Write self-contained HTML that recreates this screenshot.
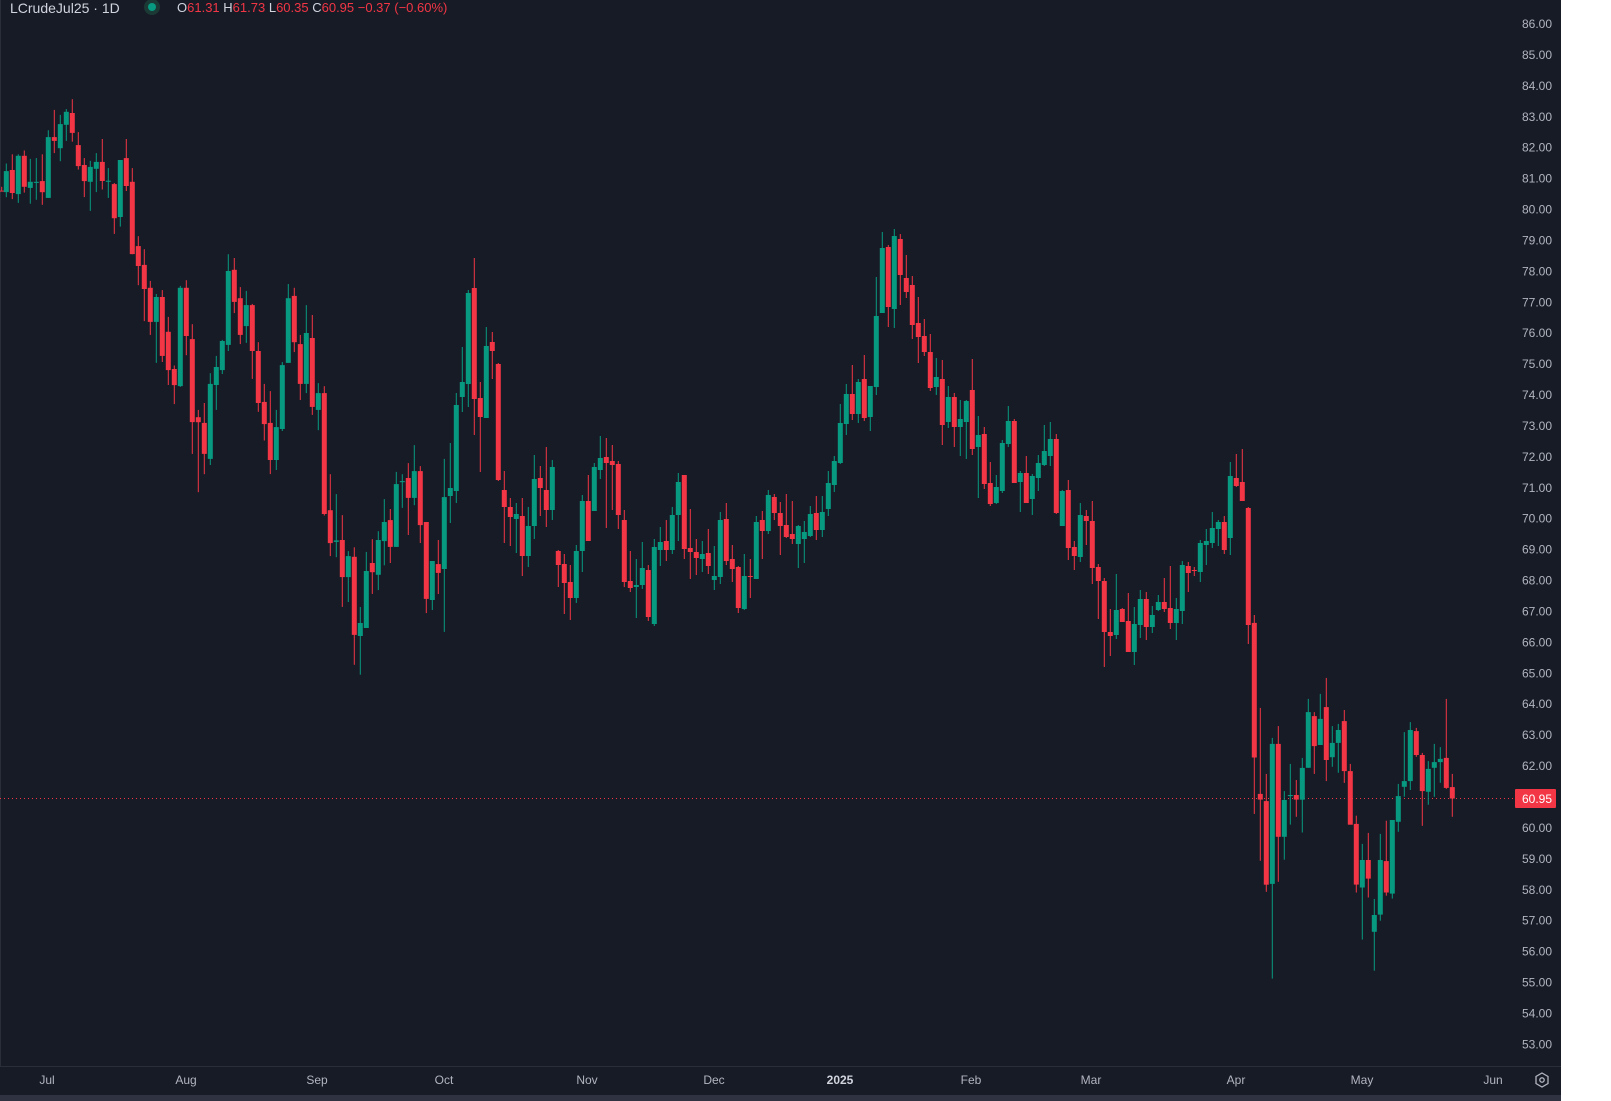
<!DOCTYPE html>
<html><head><meta charset="utf-8"><style>
html,body{margin:0;padding:0;background:#fff;}
#c{position:absolute;left:0;top:0;width:1561px;height:1101px;background:#171b26;overflow:hidden;font-family:"Liberation Sans",sans-serif;}
svg{position:absolute;left:0;top:0;}
</style></head><body>
<div id="c">
<svg id="s" width="1561" height="1101" xmlns="http://www.w3.org/2000/svg">
<line x1="0.5" y1="0" x2="0.5" y2="1066" stroke="#2a2e39"/>
<line x1="0" y1="1066.5" x2="1561" y2="1066.5" stroke="#2a2e39"/>
<rect x="0" y="1095" width="1561" height="6" fill="#2f3240"/>
<line x1="0" y1="798.5" x2="1515" y2="798.5" stroke="#f23645" stroke-width="1" stroke-dasharray="1,3"/>
<g id="candles"></g>
<g font-size="12" fill="#b2b5be" text-anchor="end" id="ticks"></g>
<rect x="1515" y="789" width="41" height="19" fill="#f23645" rx="1"/>
<text x="1552" y="803" font-size="12" fill="#fff" text-anchor="end">60.95</text>
<g font-size="12" fill="#b2b5be" text-anchor="middle">
<text x="47" y="1084">Jul</text><text x="186" y="1084">Aug</text><text x="317" y="1084">Sep</text>
<text x="444" y="1084">Oct</text><text x="587" y="1084">Nov</text><text x="714" y="1084">Dec</text>
<text x="840" y="1084" fill="#d1d4dc" font-weight="bold">2025</text><text x="971" y="1084">Feb</text>
<text x="1091" y="1084">Mar</text><text x="1236" y="1084">Apr</text><text x="1362" y="1084">May</text>
<text x="1493" y="1084">Jun</text></g>
<polygon points="1542,1073 1548,1076.5 1548,1083.5 1542,1087 1536,1083.5 1536,1076.5" fill="none" stroke="#b2b5be" stroke-width="1.3"/>
<circle cx="1542" cy="1080" r="2.2" fill="none" stroke="#b2b5be" stroke-width="1.3"/>
<text x="10" y="13" font-size="14" fill="#d1d4dc">LCrudeJul25 · 1D</text>
<circle cx="152" cy="7" r="8" fill="#1c3a35"/><circle cx="152" cy="7" r="4" fill="#089981"/>
<text x="177" y="12" font-size="13"><tspan fill="#d1d4dc">O</tspan><tspan fill="#f23645">61.31 </tspan><tspan fill="#d1d4dc">H</tspan><tspan fill="#f23645">61.73 </tspan><tspan fill="#d1d4dc">L</tspan><tspan fill="#f23645">60.35 </tspan><tspan fill="#d1d4dc">C</tspan><tspan fill="#f23645">60.95 −0.37 (−0.60%)</tspan></text>
</svg>
</div>
<script>
var z4="5r253,263,253,263;19g192,212,267,280;37r168,209,269,285;55g168,172,272,295;73r158,172,253,268;91g180,240,256,297;109g178,240,243,287;127r168,238,267,300;145g105,123,282,282;163r52,123,133,165;181g65,89,152,186;199g50,57,91,133;217r24,60,112,135;235r110,144,199,208;253r178,196,238,280;271g185,201,240,316;289g165,188,206,267;307r128,188,238,260;325g204,237,240,282;343r243,246,335,376;361g183,183,332,357;379r128,178,251,264;397r204,240,429,429;415r382,408,460,510;433r416,457,520,604;451r499,517,606,640;469g533,541,606,713;487r523,541,695,711;505r593,632,732,771;523r720,729,771,821;541g512,517,774,776;559r497,517,643,693;577r612,651,868,951;595r836,855,868,1051;613r818,870,951,1004;631g740,768,964,980;649g695,724,771,836;667g653,656,732,742;685g429,473,666,682;703r439,470,554,583;721r515,544,640,664;739g525,562,617,661;757r559,562,682,755;775r659,682,818,841;793r768,815,873,916;811r787,870,967,1004;829g836,881,967,993;847g711,719,886,891;865g507,544,713,713;883r517,538,659,685;901r640,664,768,810;919g562,635,768,792;937r588,648,828,849;955g766,792,836,889;973r774,792,1108,1112;991r1004,1098,1184,1218;1009g1056,1177,1181,1221;1027r1111,1176,1273,1351;1045g1205,1218,1273,1338;1063r1195,1220,1424,1502;1081g1351,1393,1427,1528;1099g1207,1257,1406,1406;1117r1174,1236,1260,1317;1135g1153,1176,1267,1307;1153g1069,1129,1179,1242;1171r1095,1124,1194,1236;1189g998,1030,1194,1194;1207g1004,1022,1025,1092;1225r975,1014,1066,1163;1243g928,996,1066,1085;1261r983,996,1137,1184;1279r1129,1129,1330,1367;1297g1231,1231,1333,1359;1315r1176,1239,1262,1317;1333g964,1064,1252,1416";
var z5="61g609,744,768,849;79g459,495,753,789;97g321,426,471,516;115g150,159,432,501;133r54,144,477,585;151r426,474,531,696;169g261,318,534,534;187r276,306,333,417;205r369,372,720,723;223r693,750,801,909;241r774,801,831,918;259g789,822,837,939;277r774,828,948,1008;295g801,858,948,981;313g645,717,858,897;331r678,714,744,828;349r621,750,810,861;367g660,681,810,840;385r930,933,975,1041;403r942,972,1029,1122;421r975,1026,1074,1140;439g915,933,1074,1089;457g765,783,933,996;475r705,783,903,903;493g669,681,813,813;511g588,654,690,717;529r594,651,669,864;547r615,663,675,810;565r663,672,825,867;583r810,840,1026,1041;601r933,1023,1044,1056;619g957,1035,1041,1134;637g906,984,1035,1047;655r975,990,1131,1143;673g897,921,1152,1158;691g861,906,930,978;709r840,903,930,963;727g801,825,930,942;745g699,726,825,903;763r705,705,927,957;781r807,924,936,1017;799r897,936,954,1005;817g903,942,957,996;835r867,939,978,1002;853g918,1008,1020,1050;871g816,840,1011,1032;889r789,837,963,975;907r915,957,987,1026;925r978,981,1104,1119;943g942,1008,1107,1110;961r957,1008,1011,1074;979g828,846,1017,1017;997r813,840,873,957;1015g750,765,873,882;1033r762,771,819,840;1051r786,819,858,945;1069r762,855,891,894;1087r783,882,897,912;1105g855,858,912,984;1123g843,876,897,969;1141g798,822,888,891;1159r768,819,870,900;1177g768,816,870,891;1195g693,729,807,828;1213g648,663,735,756;1231g492,549,669,672;1249g432,462,552,585;1267r375,462,522,540;1285g417,426,522,549;1303r345,417,534,543;1321g438,438,531,573;1339g111,228,441,465";
var z6="127g36,84,279,279;145r75,81,261,321;163g27,48,267,324;181r42,57,165,255;199r105,174,216,234;217r168,195,315,357;235r231,309,351,429;253r297,348,396,408;271r342,396,504,513;289g414,471,501,525;307r420,477,615,675;325g498,531,606,624;343r519,531,621,681;361g540,597,621,708;379g540,543,606,717;397r417,510,687,705;415g588,645,681,834;433r621,642,792,807;451r726,789,852,858;469g765,801,849,852;487g660,669,813,819;505g558,603,672,681;523r597,603,789,789;541g753,759,786,876;559r708,759,849,849;577g762,768,837,885;595g705,729,774,813;613g615,693,735,738;631g606,657,708,738;649r642,657,879,882;667g810,813,918,918;685r780,810,984,1020;703r963,981,1008,1050;721g849,885,1011,1026;739r870,888,903,975;757r843,903,1044,1092;775r1032,1041,1083,1197;793r1074,1083,1236,1341;811r1167,1236,1248,1308;829g1062,1170,1245,1257;847r1164,1167,1206,1206;865r1119,1203,1296,1296;883g1161,1212,1296,1335;901g1110,1137,1215,1254;919r1116,1137,1221,1260;937g1158,1185,1221,1239;955g1125,1146,1170,1173;973r1074,1146,1167,1176;991r1038,1164,1209,1227;1009g1134,1167,1209,1260;1027g1023,1035,1173,1212;1045r1026,1038,1059,1116;1063r1041,1050,1053,1068;1081g960,969,1056,1086;1099g927,963,975,1035;1117g876,924,969,984;1135g900,906,927,978;1153r888,906,990,1002;1171g726,768,954,1005;1189r702,774,798,801;1207r687,786,843,843;1225r861,864,1215,1272";
var z7="103r490,512,889,1047;121r750,991,1007,1178;139r935,1011,1245,1265;157g834,851,1243,1508;175r801,851,1111,1237;193g983,1008,1111,1175;211g907,994,997,1077;229r952,994,1007,1055;247g890,918,1007,1099;265g725,762,918,918;283r762,773,857,935;301g711,781,854,854;319r666,748,896,955;337g801,848,888,915;355g795,812,848,932;373r756,787,927,960;391r907,927,1077,1077;409r1052,1075,1245,1267;427g1131,1176,1253,1399;445r1100,1176,1228,1281;463g1285,1330,1377,1486;481g1103,1176,1329,1346;499r1066,1179,1267,1276;517g1064,1064,1270,1284;535g963,997,1069,1097;553g818,955,971,999;571g790,812,955,980;589r806,815,882,887;607r876,882,983,1080;625g899,921,985,1021;643g851,902,918,999;661g860,893,902,960;679r725,890,974,977;697r935,972,1004,1055";
var out="";
function draw(str,x0,y0,sy){str.split(";").forEach(function(e){var m=e.match(/^(\d+)([rg])(.*)$/);var v=m[3].split(",").map(Number);
var x=x0+(+m[1])/3;var col=m[2]=="r"?"#f23645":"#089981";
var wt=y0+v[0]/sy,bt=y0+v[1]/sy,bb=y0+v[2]/sy,wb=y0+v[3]/sy;if(bb-bt<1)bb=bt+1;
out+='<rect x="'+(x-0.5).toFixed(1)+'" y="'+wt.toFixed(1)+'" width="1" height="'+(wb-wt).toFixed(1)+'" fill="'+col+'"/>';
out+='<rect x="'+(x-2.5).toFixed(1)+'" y="'+bt.toFixed(1)+'" width="5" height="'+(bb-bt).toFixed(1)+'" fill="'+col+'"/>';});}
draw(z4,0,90,1568/600);draw(z5,430,240,3);draw(z6,840,220,3);draw(z7,1220,440,2.8);
document.getElementById("candles").innerHTML=out;
var t="";for(var p=86;p>=53;p--){var y=23.5+(86-p)*30.92;if(Math.abs(y-798)<12)continue;t+='<text x="1552" y="'+(y+4.5).toFixed(1)+'">'+p+'.00</text>';}
document.getElementById("ticks").innerHTML=t;
</script>
</body></html>
